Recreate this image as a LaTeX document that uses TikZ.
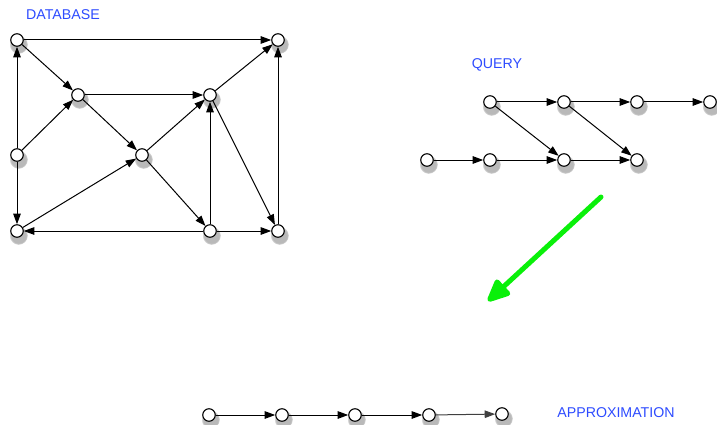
\documentclass[tikz,border=0pt]{standalone}
\usepackage{fontspec}
\setsansfont{Liberation Sans}
\usetikzlibrary{arrows.meta}
\usetikzlibrary{shadows}
\definecolor{lblue}{RGB}{45,75,255}
\definecolor{lgreen}{RGB}{10,240,10}

\begin{document}
\begin{tikzpicture}[x=1pt, y=-1pt,
        vert/.style = {circle, draw, line width=1.1pt, fill=white, inner sep=0pt,
            minimum size=12.5pt,
            circular drop shadow={shadow xshift=1pt, shadow yshift=-3pt, shadow scale=1.5, opacity=0.55}},
        edge/.style = {-{Triangle[length=10.5pt, width=7.5pt]}, line width=1pt},
        title/.style = {text=lblue, font=\sffamily\fontsize{14.2}{16}\selectfont}]
    \useasboundingbox (0, 0) rectangle (717, 425);

    % database graph
    \node [title] (dbname) at (63, 15) {DATABASE};
    \node [vert] (A) at (17, 40) {};
    \node [vert] (B) at (278, 40) {};
    \node [vert] (C) at (78, 95) {};
    \node [vert] (D) at (210, 95) {};
    \node [vert] (E) at (17, 155) {};
    \node [vert] (F) at (142, 155) {};
    \node [vert] (G) at (17, 231) {};
    \node [vert] (H) at (210, 231) {};
    \node [vert] (I) at (278, 231) {};

    \draw [edge] (A) -- (B);
    \draw [edge] (A) -- (C);
    \draw [edge] (E) -- (A);
    \draw [edge] (E) -- (C);
    \draw [edge] (E) -- (G);
    \draw [edge] (C) -- (D);
    \draw [edge] (C) -- (F);
    \draw [edge] (F) -- (D);
    \draw [edge] (D) -- (B);
    \draw [edge] (D) -- (I);
    \draw [edge] (F) -- (H);
    \draw [edge] (G) -- (F);
    \draw [edge] (H) -- (G);
    \draw [edge] (H) -- (D);
    \draw [edge] (H) -- (I);
    \draw [edge] (I) -- (B);

    % query graph
    \node [title] (qname) at (497, 65) {QUERY};
    \node [vert] (q1) at (490, 102) {};
    \node [vert] (q2) at (564, 102) {};
    \node [vert] (q3) at (637, 102) {};
    \node [vert] (q4) at (710, 102) {};
    \node [vert] (p1) at (427, 160) {};
    \node [vert] (p2) at (490, 160) {};
    \node [vert] (p3) at (564, 160) {};
    \node [vert] (p4) at (637, 160) {};

    \draw [edge] (q1) -- (q2);
    \draw [edge] (q2) -- (q3);
    \draw [edge] (q3) -- (q4);
    \draw [edge] (q1) -- (p3);
    \draw [edge] (q2) -- (p4);
    \draw [edge] (p1) -- (p2);
    \draw [edge] (p2) -- (p3);
    \draw [edge] (p3) -- (p4);

    % big arrow
    \coordinate (from) at (601, 197);
    \coordinate (to) at (488, 301);
    \draw [lgreen, line width=5pt, line cap=round,
        -{Triangle[length=26pt, width=22pt, round=false]}] (from) -- (to);

    % approximation path
    \node [title] (aname) at (616, 413) {APPROXIMATION};
    \node [vert] (r1) at (209, 415) {};
    \node [vert] (r2) at (282, 415) {};
    \node [vert] (r3) at (355, 415) {};
    \node [vert] (r4) at (429, 415) {};
    \node [vert] (r5) at (502, 414) {};

    \draw [edge] (r1) -- (r2);
    \draw [edge] (r2) -- (r3);
    \draw [edge] (r3) -- (r4);
    \draw [edge, black!75] (r4) -- (r5);
\end{tikzpicture}
\end{document}
